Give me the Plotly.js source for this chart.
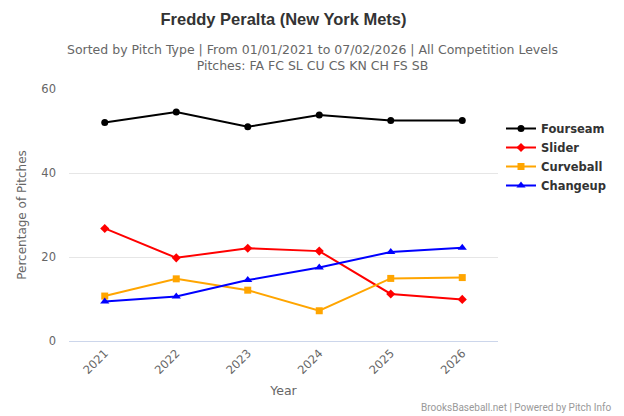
<!DOCTYPE html>
<html>
<head>
<meta charset="utf-8">
<script src="https://cdn.plot.ly/plotly-3.0.1.min.js"></script>
<style>html,body{margin:0;padding:0;background:#fff}#chart{width:624px;height:416px}</style>
</head>
<body>
<div id="chart"></div>
<script>
const years = ["2021", "2022", "2023", "2024", "2025", "2026"];
const fourseam = [52.0, 54.5, 51.0, 53.8, 52.5, 52.5];
const slider = [26.8, 19.8, 22.1, 21.4, 11.2, 9.9];
const curveball = [10.7, 14.8, 12.1, 7.2, 14.9, 15.1];
const changeup = [9.4, 10.6, 14.5, 17.5, 21.2, 22.2];

const FONT = '"DejaVu Sans", "Liberation Sans", sans-serif';

function tr(name, y, color, symbol, size) {
  return {
    x: years, y: y, name: name, type: 'scatter', mode: 'lines+markers',
    line: {color: color, width: 2},
    marker: {color: color, symbol: symbol, size: size},
    hoverinfo: 'x+y+name'
  };
}

const data = [
  tr('Fourseam', fourseam, '#000000', 'circle', 7),
  tr('Slider', slider, '#ff0000', 'diamond', 7),
  tr('Curveball', curveball, '#ffa500', 'square', 7),
  tr('Changeup', changeup, '#0000ff', 'triangle-up', 8)
];

const W = 624, H = 416, ML = 69, MR = 126, MT = 89, MB = 75;
const PW = W - ML - MR, PH = H - MT - MB;

const layout = {
  width: W, height: H,
  margin: {l: ML, r: MR, t: MT, b: MB},
  paper_bgcolor: '#fff', plot_bgcolor: '#fff',
  font: {family: FONT, color: '#666'},
  title: {
    text: '<b>Freddy Peralta (New York Mets)</b>',
    font: {family: '"Liberation Sans", Arial, sans-serif', size: 16.5, color: '#333'},
    x: 0.5, xref: 'paper', xanchor: 'center',
    y: 1 - 19 / H, yref: 'container', yanchor: 'middle'
  },
  showlegend: true,
  legend: {
    x: (501 - ML) / PW, xanchor: 'left', y: (H - MB - 114) / PH, yanchor: 'top',
    font: {family: FONT, size: 11.5, color: '#333', weight: 'bold'},
    tracegroupgap: 0, itemwidth: 30,
    bgcolor: 'rgba(0,0,0,0)'
  },
  xaxis: {
    type: 'category',
    range: [-0.5, years.length - 0.5],
    tickangle: -45,
    tickfont: {size: 11.5, color: '#666'},
    showgrid: false,
    showline: true, linecolor: '#ccd6eb', linewidth: 1,
    ticks: '',
    automargin: false,
    title: {text: 'Year', font: {size: 12.5, color: '#666'}, standoff: 10},
    fixedrange: true
  },
  yaxis: {
    range: [0, 60],
    tickvals: [0, 20, 40, 60],
    tickfont: {size: 11.5, color: '#666'},
    ticklabelstandoff: 12,
    gridcolor: '#e6e6e6', gridwidth: 1,
    zeroline: false, showline: false,
    automargin: false,
    title: {text: 'Percentage of Pitches', font: {size: 12, color: '#666'}, standoff: 12},
    fixedrange: true
  },
  annotations: [
    {text: 'Sorted by Pitch Type | From 01/01/2021 to 07/02/2026 | All Competition Levels<br>Pitches: FA FC SL CU CS KN CH FS SB',
     xref: 'paper', yref: 'paper', x: (312 - ML) / PW, y: (H - MB - 57.5) / PH,
     xanchor: 'center', yanchor: 'middle', showarrow: false,
     font: {size: 12.5, color: '#666'}, align: 'center'},
    {text: 'BrooksBaseball.net | Powered by Pitch Info',
     xref: 'paper', yref: 'paper', x: (614 - ML) / PW, y: -(407 - (H - MB)) / PH,
     xanchor: 'right', yanchor: 'middle', showarrow: false,
     font: {family: 'Roboto, sans-serif', size: 10, color: '#999'}}
  ]
};

Plotly.newPlot('chart', data, layout, {displayModeBar: false, staticPlot: true});
</script>
</body>
</html>
